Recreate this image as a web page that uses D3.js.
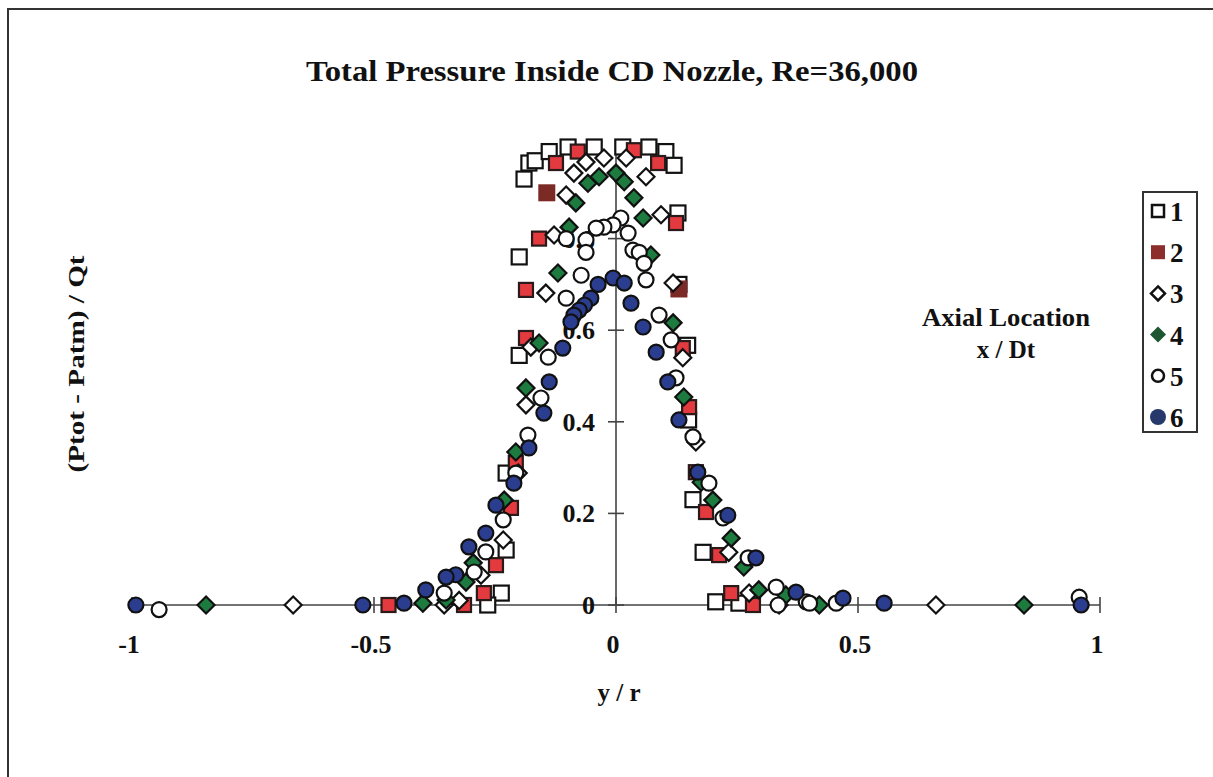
<!DOCTYPE html>
<html>
<head>
<meta charset="UTF-8">
<title>Total Pressure Inside CD Nozzle</title>
<script src="https://d3js.org/d3.v7.min.js"></script>
<style>
  body { margin: 0; background: #fff; }
  svg { display: block; }
  text { font-family: "Liberation Serif", "Times New Roman", serif; font-weight: bold; fill: #111; }
</style>
</head>
<body>
<svg id="chart" width="1213" height="777"></svg>
<script>
// series: [y/r, (Ptot-Patm)/Qt]
const s1 = [[-0.19,0.93],[-0.18,0.965],[-0.167,0.97],[-0.138,0.99],[-0.099,1.0],[-0.045,1.0],[0.014,1.0],[0.068,1.0],
  [0.103,0.99],[0.12,0.96],[0.128,0.856],[-0.2,0.76],[0.13,0.70],[-0.2,0.545],[0.148,0.567],[0.15,0.404],
  [-0.227,0.288],[-0.227,0.12],[-0.237,0.026],[-0.265,0.0],[0.159,0.23],[0.18,0.115],[0.206,0.007],[0.254,0.004]];
const s2 = [[-0.124,0.965],[-0.079,0.99],[0.037,0.993],[0.087,0.965],[0.124,0.834],[-0.159,0.8],[-0.186,0.583],
  [-0.186,0.688],[0.138,0.561],[0.151,0.432],[-0.207,0.31],[-0.217,0.212],[-0.248,0.087],[-0.273,0.026],
  [-0.314,0.0],[-0.47,0.0],[0.165,0.29],[0.186,0.203],[0.213,0.109],[0.238,0.026],[0.283,0.0]];
const s2big = [[-0.143,0.9],[0.13,0.69]];
const s3 = [[-0.087,0.943],[-0.062,0.967],[-0.025,0.976],[0.021,0.976],[0.062,0.935],[-0.103,0.895],[-0.128,0.808],
  [0.093,0.852],[0.118,0.703],[-0.145,0.681],[-0.176,0.563],[-0.186,0.437],[0.138,0.54],[-0.202,0.288],
  [-0.233,0.142],[-0.279,0.065],[-0.324,0.01],[-0.355,0.0],[0.165,0.356],[0.233,0.115],[0.275,0.026],
  [0.337,0.0],[-0.667,0.0],[0.661,0.0]];
const s4 = [[-0.058,0.921],[-0.035,0.935],[0.0,0.943],[0.017,0.924],[-0.083,0.878],[0.037,0.889],[0.056,0.845],
  [-0.097,0.825],[0.072,0.764],[-0.12,0.725],[0.118,0.616],[-0.159,0.572],[-0.186,0.474],[0.14,0.454],
  [-0.207,0.334],[-0.231,0.229],[-0.295,0.092],[-0.31,0.05],[-0.351,0.011],[-0.399,0.004],[0.176,0.268],
  [0.2,0.229],[0.238,0.146],[0.264,0.083],[0.295,0.033],[0.351,0.022],[0.42,0.0],[0.843,0.0],[-0.847,0.0]];
const s5 = [[0.01,0.845],[-0.006,0.83],[-0.025,0.825],[-0.041,0.823],[0.025,0.812],[-0.103,0.8],[-0.062,0.797],
  [-0.062,0.77],[0.035,0.775],[0.048,0.77],[0.058,0.746],[-0.072,0.72],[0.062,0.71],[-0.103,0.67],[0.089,0.633],
  [0.114,0.579],[-0.14,0.541],[-0.155,0.452],[0.124,0.496],[-0.182,0.371],[-0.207,0.288],[-0.233,0.186],
  [-0.269,0.116],[-0.293,0.072],[-0.355,0.026],[0.159,0.367],[0.192,0.266],[0.221,0.19],[0.273,0.103],
  [0.331,0.039],[0.335,0.0],[0.393,0.007],[0.4,0.004],[0.455,0.004],[-0.944,-0.01],[0.957,0.017]];
const s6 = [[-0.037,0.7],[-0.006,0.714],[0.017,0.703],[-0.052,0.67],[-0.065,0.655],[-0.076,0.644],[-0.087,0.633],
  [-0.093,0.618],[0.031,0.659],[0.056,0.607],[0.083,0.552],[-0.11,0.561],[-0.138,0.487],[-0.149,0.419],
  [0.107,0.487],[0.13,0.404],[-0.18,0.343],[-0.211,0.266],[-0.248,0.218],[-0.269,0.157],[-0.304,0.127],
  [-0.331,0.066],[-0.351,0.061],[-0.393,0.033],[0.169,0.29],[0.231,0.196],[0.289,0.103],[0.372,0.028],
  [-0.523,0.0],[-0.438,0.004],[-0.992,0.0],[0.469,0.015],[0.554,0.004],[0.961,0.0]];

const xTicks = [-1, -0.5, 0, 0.5, 1];
const yTicks = [0, 0.2, 0.4, 0.6, 0.8];
const legendLabels = ["1", "2", "3", "4", "5", "6"];

const svg = d3.select("#chart");
const x = d3.scaleLinear().domain([-1, 1]).range([132, 1100]);
const y = d3.scaleLinear().domain([0, 1]).range([605, 147]);

// outer frame
svg.append("rect").attr("x", 8).attr("y", 9).attr("width", 1210).attr("height", 800)
  .attr("fill", "#fff").attr("stroke", "#333").attr("stroke-width", 2);

svg.append("text").attr("x", 612).attr("y", 81).attr("text-anchor", "middle")
  .attr("textLength", 612).attr("lengthAdjust", "spacingAndGlyphs")
  .style("font-size", "30px").text("Total Pressure Inside CD Nozzle, Re=36,000");

// axes crossing at 0
const axisColor = "#444";
svg.append("line").attr("x1", x(-1)).attr("x2", x(1)).attr("y1", y(0)).attr("y2", y(0))
  .attr("stroke", axisColor).attr("stroke-width", 1.6);
svg.append("line").attr("x1", x(0)).attr("x2", x(0)).attr("y1", y(0)).attr("y2", y(1) - 3)
  .attr("stroke", axisColor).attr("stroke-width", 1.6);

xTicks.forEach(t => {
  svg.append("line").attr("x1", x(t)).attr("x2", x(t)).attr("y1", y(0) - 8).attr("y2", y(0) + 8)
    .attr("stroke", axisColor).attr("stroke-width", 1.6);
  svg.append("text").attr("x", x(t) - 3).attr("y", 653).attr("text-anchor", "middle")
    .style("font-size", "26px").text(t);
});
yTicks.forEach(t => {
  svg.append("line").attr("x1", x(0) - 8).attr("x2", x(0) + 8).attr("y1", y(t)).attr("y2", y(t))
    .attr("stroke", axisColor).attr("stroke-width", 1.6);
  svg.append("text").attr("x", x(0) - 21).attr("y", y(t) + 9).attr("text-anchor", "end")
    .style("font-size", "26px").text(t === 0 ? "0" : t.toFixed(1));
});

svg.append("text").attr("x", 619).attr("y", 701).attr("text-anchor", "middle")
  .style("font-size", "25px").text("y / r");
svg.append("text").attr("transform", "translate(84,364) rotate(-90)").attr("text-anchor", "middle")
  .attr("textLength", 217).attr("lengthAdjust", "spacingAndGlyphs")
  .style("font-size", "24px").text("(Ptot - Patm) / Qt");

// markers
function square(g, data, size, fill, stroke) {
  g.selectAll(null).data(data).enter().append("rect")
    .attr("x", d => x(d[0]) - size / 2).attr("y", d => y(d[1]) - size / 2)
    .attr("width", size).attr("height", size)
    .attr("fill", fill).attr("stroke", stroke).attr("stroke-width", stroke === "none" ? 0 : 2.2);
}
function diamond(g, data, r, fill) {
  g.selectAll(null).data(data).enter().append("path")
    .attr("d", d => { const cx = x(d[0]), cy = y(d[1]);
      return `M${cx},${cy - r}L${cx + r},${cy}L${cx},${cy + r}L${cx - r},${cy}Z`; })
    .attr("fill", fill).attr("stroke", "#111").attr("stroke-width", 2.2);
}
function circle(g, data, r, fill) {
  g.selectAll(null).data(data).enter().append("circle")
    .attr("cx", d => x(d[0])).attr("cy", d => y(d[1])).attr("r", r)
    .attr("fill", fill).attr("stroke", "#111").attr("stroke-width", 2.2);
}

const marks = svg.append("g");
square(marks, s1, 15, "#fff", "#111");
square(marks, s2, 14, "#e23a3f", "#2a1a1a");
square(marks, s2big, 17, "#7c2a26", "none");
diamond(marks, s3, 8.5, "#fff");
diamond(marks, s4, 8.5, "#1e7b3f");
circle(marks, s5, 7.5, "#fff");
circle(marks, s6, 7.5, "#2b3d8e");

// legend
const lg = svg.append("g");
lg.append("rect").attr("x", 1143).attr("y", 192).attr("width", 54).attr("height", 240)
  .attr("fill", "#fff").attr("stroke", "#333").attr("stroke-width", 2);
const ly = d3.scalePoint().domain(legendLabels).range([211, 417]);
const lx = 1158;
const legendMarks = [
  g => g.append("rect").attr("x", lx - 6).attr("y", -6).attr("width", 12).attr("height", 12).attr("fill", "#fff").attr("stroke", "#111").attr("stroke-width", 2.5),
  g => g.append("rect").attr("x", lx - 7).attr("y", -7).attr("width", 14).attr("height", 14).attr("fill", "#8c2e2c"),
  g => g.append("path").attr("d", `M${lx},-7L${lx + 7},0L${lx},7L${lx - 7},0Z`).attr("fill", "#fff").attr("stroke", "#111").attr("stroke-width", 2.5),
  g => g.append("path").attr("d", `M${lx},-8L${lx + 8},0L${lx},8L${lx - 8},0Z`).attr("fill", "#1d5630"),
  g => g.append("circle").attr("cx", lx).attr("cy", 0).attr("r", 6).attr("fill", "#fff").attr("stroke", "#111").attr("stroke-width", 2.5),
  g => g.append("circle").attr("cx", lx).attr("cy", 0).attr("r", 8).attr("fill", "#27396a")
];
legendLabels.forEach((lab, i) => {
  const g = lg.append("g").attr("transform", `translate(0,${ly(lab)})`);
  legendMarks[i](g);
  g.append("text").attr("x", 1170).attr("y", 10).style("font-size", "27px").text(lab);
});

svg.append("text").attr("x", 1006).attr("y", 326).attr("text-anchor", "middle")
  .attr("textLength", 168).attr("lengthAdjust", "spacingAndGlyphs")
  .style("font-size", "25px").text("Axial Location");
svg.append("text").attr("x", 1006).attr("y", 358).attr("text-anchor", "middle")
  .style("font-size", "25px").text("x / Dt");
</script>
</body>
</html>
